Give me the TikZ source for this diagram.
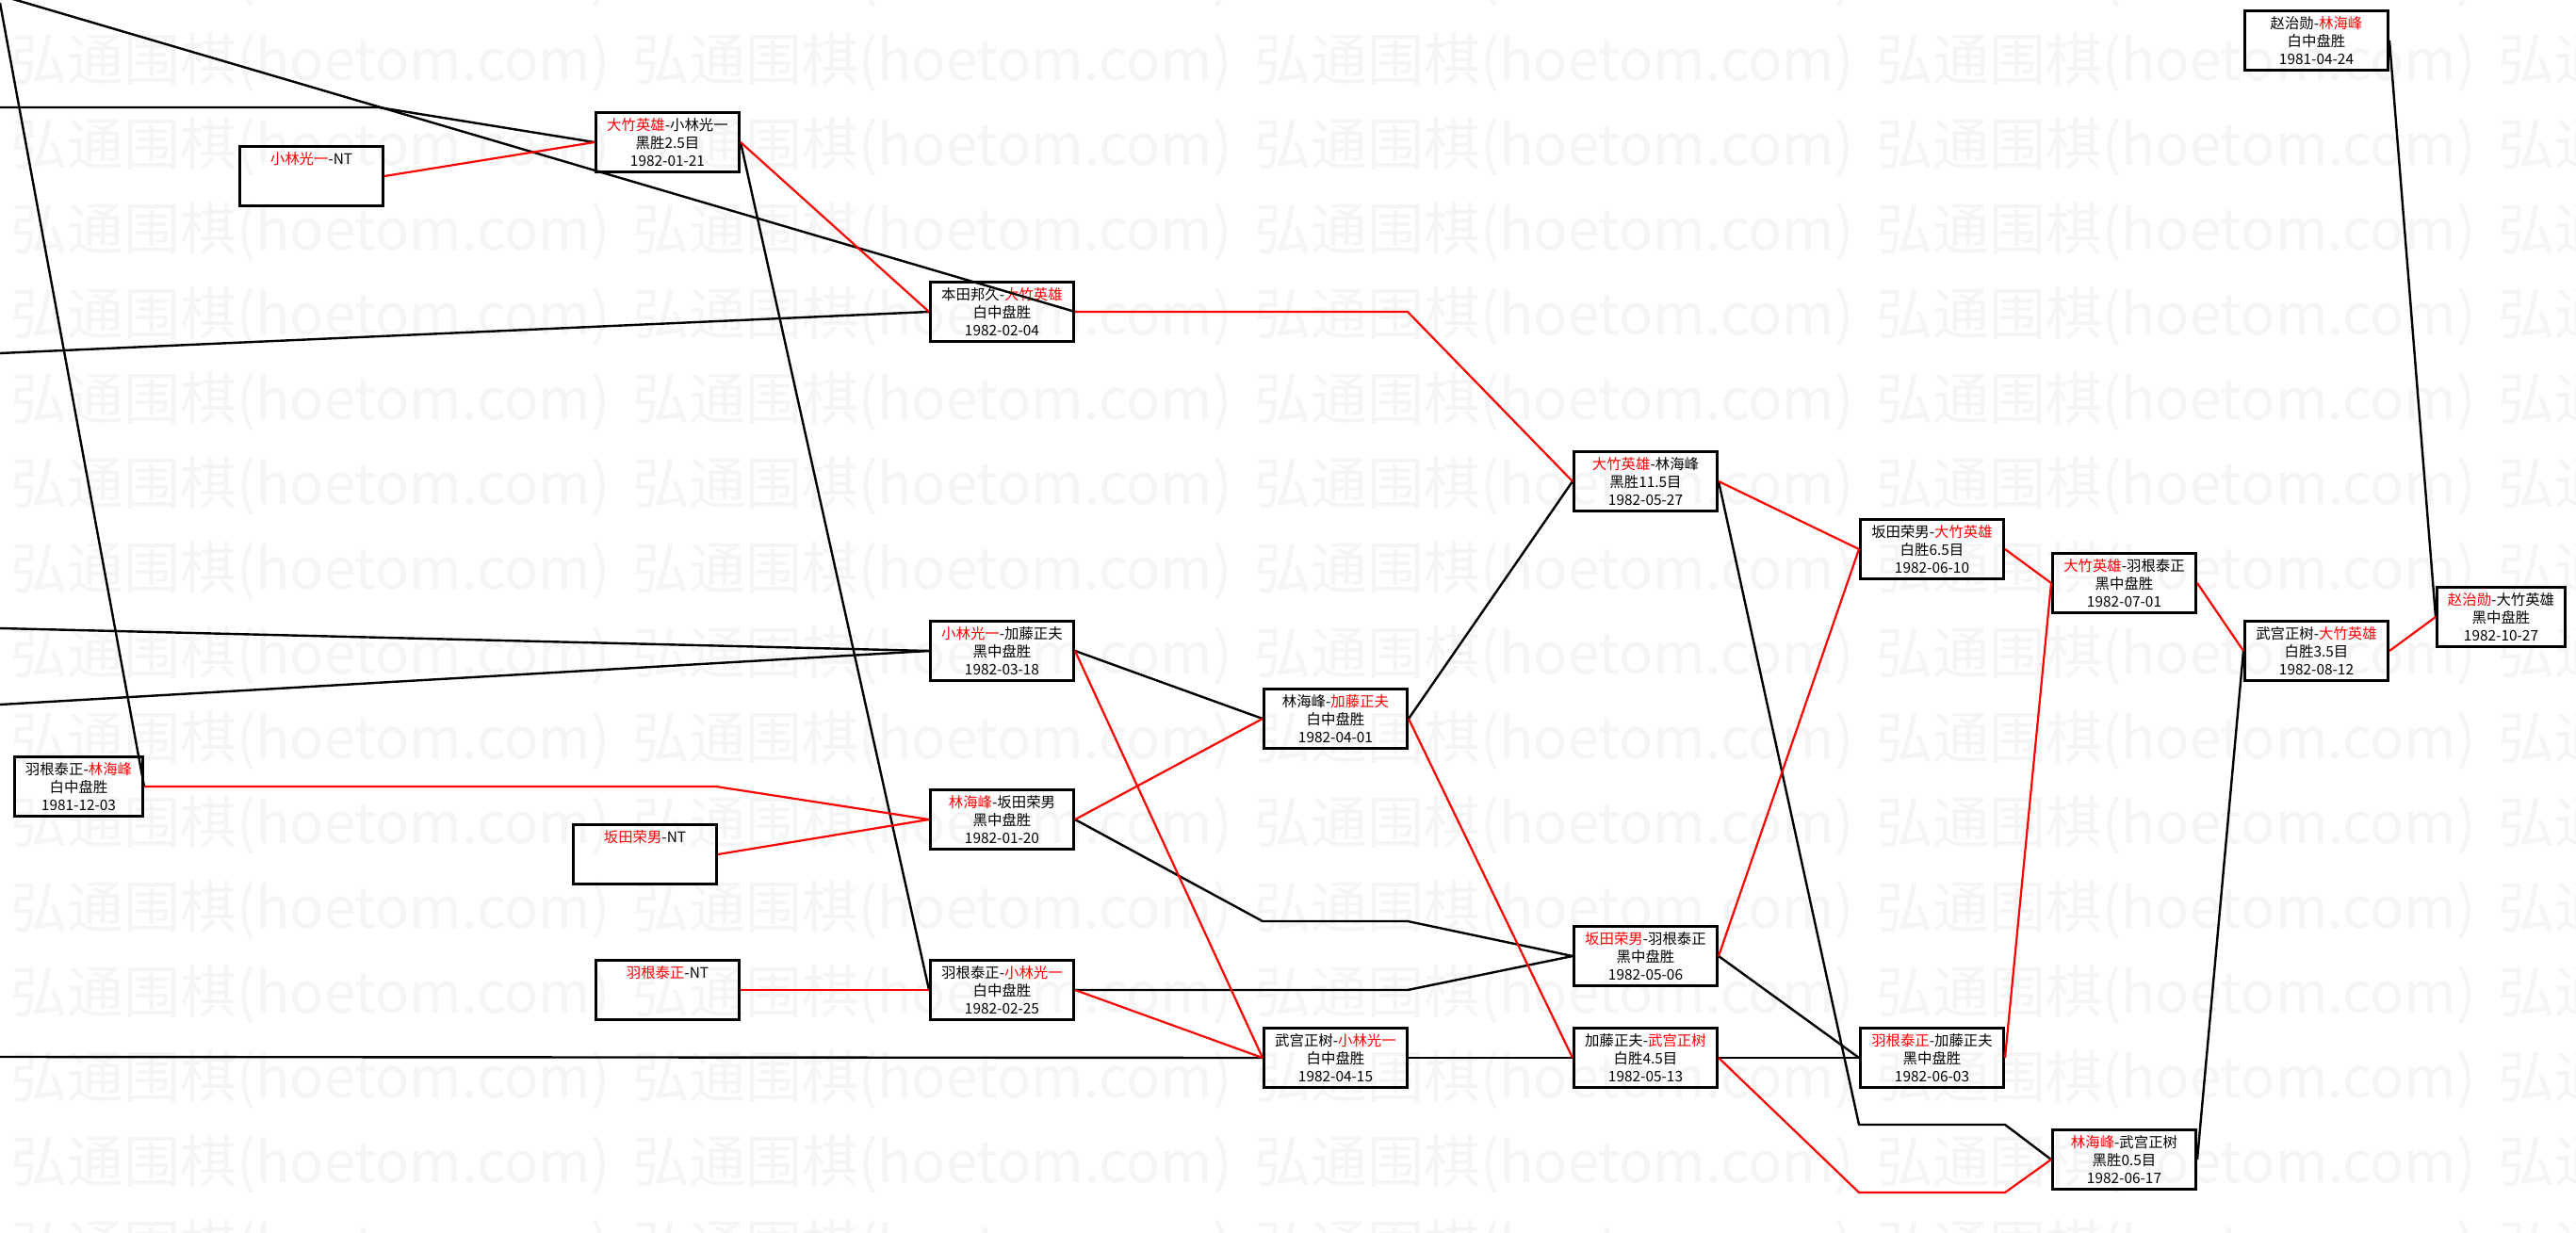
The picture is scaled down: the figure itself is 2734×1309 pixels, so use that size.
\documentclass[tikz,border=0pt]{standalone}
\usepackage{fontspec}
\newfontfamily\cjk{Noto Sans CJK SC}
\tikzset{
  game/.style={draw=black, line width=2.6pt, minimum width=152.4pt, minimum height=63.4pt,
    inner sep=0pt, align=center, anchor=north west, font=\cjk\fontsize{15.4}{19}\selectfont},
  narrowgame/.style={game, minimum width=136.4pt},
  blk/.style={draw=black, line width=2.4pt, line join=round},
  rd/.style={draw=red, line width=2.2pt, line join=round},
  wm/.style={anchor=west, inner sep=0pt, text=black!4, font=\cjk\fontsize{60}{60}\selectfont}
}
\newcommand{\rn}[1]{{\color{red}#1}}
\begin{document}
\begin{tikzpicture}[x=1pt, y=-1pt]
\useasboundingbox (0,0) rectangle (2734,1309);
\fill[white] (0,0) rectangle (2734,1309);
% watermark
\foreach \r in {-1,...,14}{
  \foreach \c in {0,...,4}{
    \node[wm] (wm-\r-\c) at ({11+660*\c},{66.5+90*\r}) {弘通围棋(hoetom.com)};
  }
}
% games
\node[game] (A) at (253,154) {\rn{小林光一}-NT\\\phantom{0}\\\phantom{0}};
\node[game] (B) at (631,118) {\rn{大竹英雄}-小林光一\\黑胜2.5目\\1982-01-21};
\node[game] (C) at (986,298) {本田邦久-\rn{大竹英雄}\\白中盘胜\\1982-02-04};
\node[game] (D) at (2381,10) {赵治勋-\rn{林海峰}\\白中盘胜\\1981-04-24};
\node[narrowgame] (E) at (14,802) {羽根泰正-\rn{林海峰}\\白中盘胜\\1981-12-03};
\node[game] (F) at (986,658) {\rn{小林光一}-加藤正夫\\黑中盘胜\\1982-03-18};
\node[game] (G) at (1340,730) {林海峰-\rn{加藤正夫}\\白中盘胜\\1982-04-01};
\node[game] (H) at (1669,478) {\rn{大竹英雄}-林海峰\\黑胜11.5目\\1982-05-27};
\node[game] (I) at (986,837) {\rn{林海峰}-坂田荣男\\黑中盘胜\\1982-01-20};
\node[game] (J) at (607,874) {\rn{坂田荣男}-NT\\\phantom{0}\\\phantom{0}};
\node[game] (K) at (631,1018) {\rn{羽根泰正}-NT\\\phantom{0}\\\phantom{0}};
\node[game] (L) at (986,1018) {羽根泰正-\rn{小林光一}\\白中盘胜\\1982-02-25};
\node[game] (M) at (1340,1090) {武宫正树-\rn{小林光一}\\白中盘胜\\1982-04-15};
\node[game] (N) at (1669,982) {\rn{坂田荣男}-羽根泰正\\黑中盘胜\\1982-05-06};
\node[game] (O) at (1669,1090) {加藤正夫-\rn{武宫正树}\\白胜4.5目\\1982-05-13};
\node[game] (P) at (1973,550) {坂田荣男-\rn{大竹英雄}\\白胜6.5目\\1982-06-10};
\node[game] (Q) at (2177,586) {\rn{大竹英雄}-羽根泰正\\黑中盘胜\\1982-07-01};
\node[game] (R) at (2381,658) {武宫正树-\rn{大竹英雄}\\白胜3.5目\\1982-08-12};
\node[narrowgame] (S) at (2585,622) {\rn{赵治勋}-大竹英雄\\黑中盘胜\\1982-10-27};
\node[game] (T) at (1973,1090) {\rn{羽根泰正}-加藤正夫\\黑中盘胜\\1982-06-03};
\node[game] (U) at (2177,1198) {\rn{林海峰}-武宫正树\\黑胜0.5目\\1982-06-17};
% free ends and bends
\coordinate (l1) at (0,-5);
\coordinate (l2) at (0,3);
\coordinate (l3) at (0,114);
\coordinate (b3) at (402,114);
\coordinate (l5) at (0,375);
\coordinate (l6) at (0,667);
\coordinate (l7) at (0,748);
\coordinate (l11) at (0,1122);
\coordinate (bIN1) at (1340,978);
\coordinate (bIN2) at (1494,978);
\coordinate (bLN) at (1494,1051);
\coordinate (bHU1) at (1973,1194);
\coordinate (bHU2) at (2128,1194);
\coordinate (bC) at (1494,331);
\coordinate (bE) at (760,835);
\coordinate (bOU1) at (1973,1266);
\coordinate (bOU2) at (2128,1266);
% black connectors
\draw[blk] (l1) -- (C.east);
\draw[blk] (l2) -- (E.east);
\draw[blk] (l3) -- (b3) -- (B.west);
\draw[blk] (B.east) -- (L.west);
\draw[blk] (l5) -- (C.west);
\draw[blk] (l6) -- (F.west);
\draw[blk] (l7) -- (F.west);
\draw[blk] (D.east) -- (S.west);
\draw[blk] (F.east) -- (G.west);
\draw[blk] (I.east) -- (bIN1) -- (bIN2) -- (N.west);
\draw[blk] (l11) -- (M.west);
\draw[blk] (L.east) -- (bLN) -- (N.west);
\draw[blk] (G.east) -- (H.west);
\draw[blk] (M.east) -- (O.west);
\draw[blk] (H.east) -- (bHU1) -- (bHU2) -- (U.west);
\draw[blk] (N.east) -- (T.west);
\draw[blk] (O.east) -- (T.west);
\draw[blk] (U.east) -- (R.west);
% red connectors
\draw[rd] (A.east) -- (B.west);
\draw[rd] (B.east) -- (C.west);
\draw[rd] (C.east) -- (bC) -- (H.west);
\draw[rd] (E.east) -- (bE) -- (I.west);
\draw[rd] (F.east) -- (M.west);
\draw[rd] (I.east) -- (G.west);
\draw[rd] (J.east) -- (I.west);
\draw[rd] (K.east) -- (L.west);
\draw[rd] (L.east) -- (M.west);
\draw[rd] (G.east) -- (O.west);
\draw[rd] (H.east) -- (P.west);
\draw[rd] (N.east) -- (P.west);
\draw[rd] (O.east) -- (bOU1) -- (bOU2) -- (U.west);
\draw[rd] (P.east) -- (Q.west);
\draw[rd] (T.east) -- (Q.west);
\draw[rd] (Q.east) -- (R.west);
\draw[rd] (R.east) -- (S.west);
\end{tikzpicture}
\end{document}
